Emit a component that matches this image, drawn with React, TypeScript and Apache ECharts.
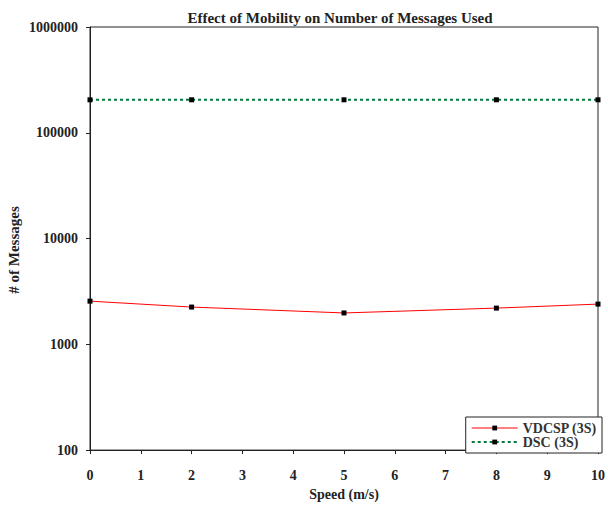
import React, { useEffect, useRef } from "react";
import * as echarts from "echarts";

const speeds = [0, 2, 5, 8, 10];
const vdcspMessages = [2560, 2250, 1980, 2200, 2400];
const dscMessages = [205000, 205000, 205000, 205000, 205000];
const xTicks = [0, 1, 2, 3, 4, 5, 6, 7, 8, 9, 10];

const FONT = "'Liberation Serif', 'DejaVu Serif', serif";
const INK = "#222";

export default function App() {
  const ref = useRef<HTMLDivElement>(null);

  useEffect(() => {
    if (!ref.current) return;
    const chart = echarts.init(ref.current, undefined, { renderer: "svg" });
    const marker = { color: "#000" };
    chart.setOption({
      animation: false,
      backgroundColor: "#fff",
      title: {
        text: "Effect of Mobility on Number of Messages Used",
        left: 335,
        textAlign: "center",
        top: 5,
        textStyle: { fontFamily: FONT, fontSize: 15, fontWeight: "bold", color: INK },
      },
      graphic: [
        {
          type: "text",
          x: 14,
          y: 250,
          rotation: Math.PI / 2,
          style: {
            text: "# of Messages",
            font: `bold 15px ${FONT}`,
            fill: INK,
            align: "center",
            verticalAlign: "middle",
          },
        },
      ],
      grid: {
        left: 90,
        right: 7,
        top: 27,
        bottom: 48,
        show: true,
        borderColor: INK,
        borderWidth: 1,
      },
      legend: {
        orient: "vertical",
        right: 6,
        bottom: 53,
        backgroundColor: "#fff",
        borderColor: INK,
        borderWidth: 1,
        padding: [4, 5, 4, 5],
        itemGap: 0,
        itemWidth: 46,
        itemHeight: 6,
        textStyle: { fontFamily: FONT, fontSize: 14, fontWeight: "bold", color: "#333", lineHeight: 14 },
        data: [
          { name: "VDCSP (3S)", lineStyle: { width: 1 } },
          { name: "DSC (3S)", lineStyle: { width: 2 } },
        ],
      },
      xAxis: {
        type: "value",
        min: 0,
        max: 10,
        interval: 1,
        name: "Speed (m/s)",
        nameLocation: "middle",
        nameGap: 33,
        nameTextStyle: { fontFamily: FONT, fontSize: 14, fontWeight: "bold", color: INK },
        axisLine: { lineStyle: { color: INK, width: 1 } },
        axisTick: { show: true, length: 4, lineStyle: { color: INK } },
        axisLabel: {
          margin: 18,
          fontFamily: FONT,
          fontSize: 14,
          fontWeight: "bold",
          color: INK,
          formatter: (v: number) => (xTicks.includes(v) ? String(v) : ""),
        },
        splitLine: { show: false },
      },
      yAxis: {
        type: "log",
        logBase: 10,
        min: 100,
        max: 1000000,
        axisLine: { show: true, lineStyle: { color: INK, width: 1 } },
        axisTick: { show: true, length: 4, lineStyle: { color: INK } },
        axisLabel: {
          margin: 12,
          fontFamily: FONT,
          fontSize: 14,
          fontWeight: "bold",
          color: INK,
          formatter: (v: number) => String(Math.round(v)),
        },
        splitLine: { show: false },
        minorTick: { show: false },
      },
      series: [
        {
          name: "VDCSP (3S)",
          type: "line",
          data: speeds.map((s, i) => [s, vdcspMessages[i]]),
          symbol: "rect",
          symbolSize: 5,
          itemStyle: marker,
          lineStyle: { color: "#ff0000", width: 1 },
          color: "#ff0000",
        },
        {
          name: "DSC (3S)",
          type: "line",
          data: speeds.map((s, i) => [s, dscMessages[i]]),
          symbol: "rect",
          symbolSize: 5,
          itemStyle: marker,
          lineStyle: { color: "#007a3d", width: 2, type: [3, 3] },
          color: "#007a3d",
        },
      ],
    });
    return () => chart.dispose();
  }, []);

  return <div ref={ref} style={{ width: 608, height: 506, position: "absolute", left: 0, top: 0 }} />;
}
